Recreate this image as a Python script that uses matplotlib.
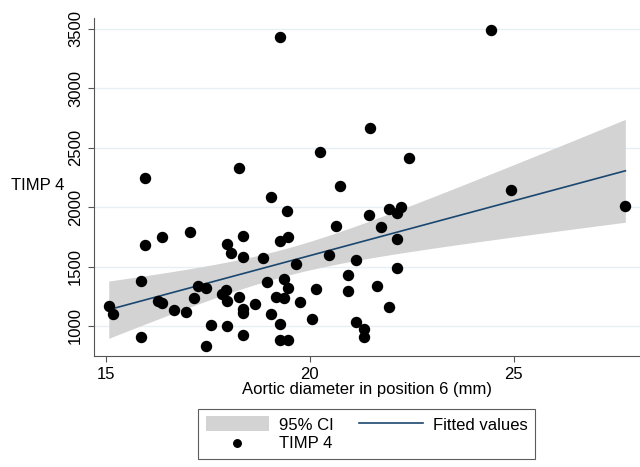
import numpy as np
import matplotlib.pyplot as plt

plt.rcParams['font.family'] = ['Liberation Sans', 'DejaVu Sans']

# aortic diameter in position 6 (mm)
diameter = [19.26, 15.97, 18.26, 20.25, 20.75, 19.04, 21.47, 24.44, 22.44, 24.94,
            19.45, 21.45, 17.06, 16.37, 15.96, 17.96, 18.36, 19.26, 19.46, 18.06,
            18.36, 20.65, 20.46, 18.85, 19.66, 21.14, 15.86, 18.96, 19.36, 19.46,
            17.26, 17.46, 20.15, 20.95, 20.95, 17.95, 17.85, 17.96, 18.26, 19.16,
            19.36, 19.75, 17.16, 16.27, 16.37, 15.07, 15.17, 16.67, 16.96, 18.36,
            18.36, 18.66, 19.05, 20.05, 19.26, 21.14, 21.34, 21.34, 17.57, 17.96,
            18.36, 15.86, 17.46, 19.26, 19.46, 27.74, 21.95, 22.15, 22.25, 21.75,
            22.15, 22.15, 21.65, 21.95]
# TIMP 4
timp4 = [3435, 2246, 2332, 2467, 2181, 2086, 2669, 3494, 2417, 2145,
         1965, 1937, 1789, 1747, 1682, 1690, 1758, 1711, 1752, 1617,
         1578, 1845, 1598, 1570, 1520, 1556, 1381, 1370, 1396, 1317,
         1334, 1317, 1314, 1432, 1295, 1300, 1267, 1213, 1242, 1242,
         1238, 1205, 1232, 1213, 1196, 1171, 1101, 1135, 1115, 1143,
         1112, 1188, 1098, 1059, 1019, 1031, 975, 905, 1011, 997,
         924, 910, 835, 882, 882, 2007, 1982, 1948, 1997, 1830,
         1729, 1491, 1334, 1157]

x = np.array(diameter)
y = np.array(timp4)

# linear fit with 95% CI of the mean (like Stata lfitci)
n = len(x)
b1, b0 = np.polyfit(x, y, 1)
resid = y - (b0 + b1 * x)
s = np.sqrt(np.sum(resid**2) / (n - 2))
xs = np.linspace(x.min(), x.max(), 100)
fit = b0 + b1 * xs
se = s * np.sqrt(1 / n + (xs - x.mean())**2 / np.sum((x - x.mean())**2))
t = 1.993
lo = fit - t * se
hi = fit + t * se

fs = 12
fig = plt.figure(figsize=(6.4, 4.67), dpi=100)
ax = fig.add_axes([0.147, 0.2377, 0.853, 0.724])

ci = ax.fill_between(xs, lo, hi, color='#d3d3d3', lw=0, zorder=1)
line, = ax.plot(xs, fit, color='#1a476f', lw=1.2, zorder=2)
pts = ax.scatter(x, y, s=52, color='black', zorder=3)

ax.set_xlim(14.71, 28.1)
ax.set_ylim(747, 3593)
ax.set_xticks([15, 20, 25])
ax.set_yticks([1000, 1500, 2000, 2500, 3000, 3500])
ax.grid(axis='y', color='#e6eff3', lw=1)
ax.set_axisbelow(True)
for sp in ['top', 'right']:
    ax.spines[sp].set_visible(False)
ax.spines['left'].set_color('#555555')
ax.spines['bottom'].set_color('#555555')
ax.tick_params(labelsize=fs, color='#555555', length=4.5, pad=3.5)
for lab in ax.get_yticklabels():
    lab.set_rotation(90)
    lab.set_va('center')

ax.set_xlabel('Aortic diameter in position 6 (mm)', fontsize=fs, labelpad=0)
ax.set_ylabel('TIMP 4', fontsize=fs, rotation=0, ha='center', va='center')
ax.yaxis.set_label_coords(-0.1035, 0.503)

leg = fig.legend([ci, pts, line], ['95% CI', 'TIMP 4', 'Fitted values'],
                 ncol=2, loc='upper center', bbox_to_anchor=(0.5727, 0.1242),
                 fontsize=fs, frameon=True, fancybox=False, edgecolor='#333333',
                 handlelength=3.8, handleheight=1.0, handletextpad=0.6,
                 columnspacing=1.55, labelspacing=0.15, borderpad=0.45,
                 borderaxespad=0, markerscale=0.75)
leg.get_frame().set_linewidth(0.8)

fig.savefig('out.png', dpi=100)
